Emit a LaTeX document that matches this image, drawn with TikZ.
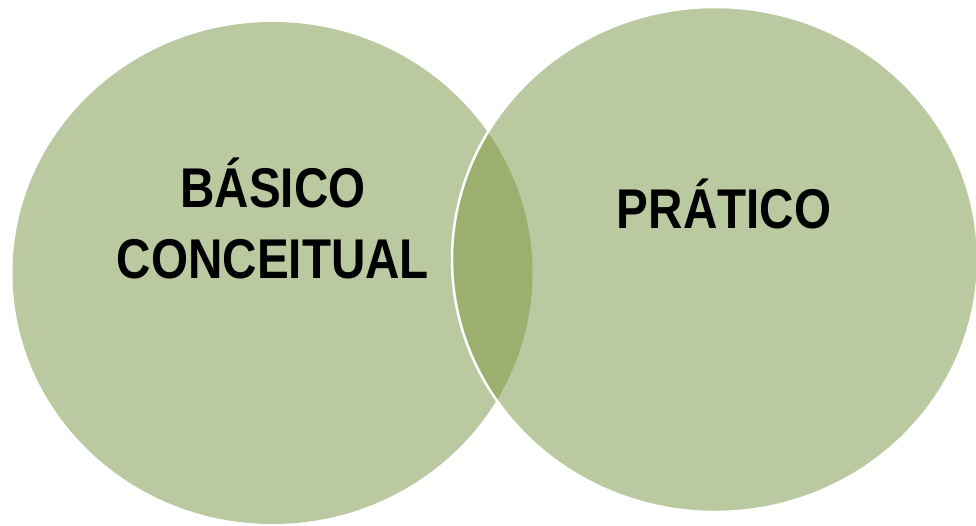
\documentclass[tikz,border=0pt]{standalone}
\usepackage{fontspec}
\setmainfont[FakeStretch=0.85]{Liberation Sans}
\definecolor{lightolive}{RGB}{187,201,160}
\definecolor{darkolive}{RGB}{155,175,110}
\tikzset{
    label text/.style = {font = \fontsize{56}{71}\selectfont\bfseries, inner sep = 0pt, anchor = base}
}

\begin{document}
\begin{tikzpicture}[x = 1pt, y = -1pt]
    \useasboundingbox (0,0) rectangle (976,525);
    \fill[lightolive]
    (272.5,273) ellipse [x radius = 260, y radius = 251];
    \fill[lightolive]
    (715,259.5) ellipse [x radius = 263, y radius = 252.5];
    \begin{scope}
        \clip (272.5,273) ellipse [x radius = 260, y radius = 251];
        \fill[darkolive]
        (715,259.5) ellipse [x radius = 263, y radius = 252.5];
    \end{scope}
    \draw[white, line width = 2.5pt]
    (715,259.5) ellipse [x radius = 263, y radius = 252.5];
    \node[label text] (basico) at (273,207) {BÁSICO};
    \node[label text] (conceitual) at (273,278) {CONCEITUAL};
    \node[label text] (pratico) at (724,228) {PRÁTICO};
\end{tikzpicture}
\end{document}
